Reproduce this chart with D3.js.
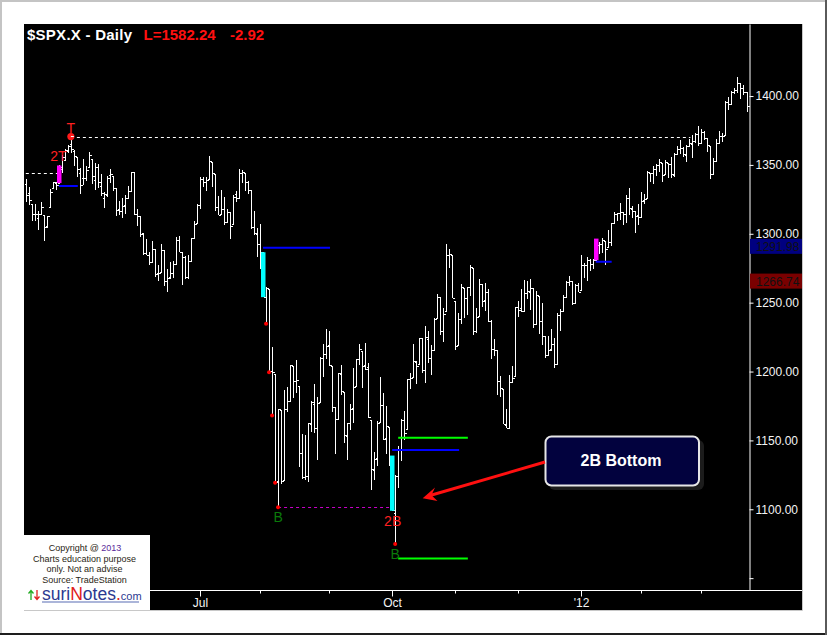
<!DOCTYPE html>
<html><head><meta charset="utf-8">
<script src="https://cdnjs.cloudflare.com/ajax/libs/d3/7.8.5/d3.min.js"></script>
<style>body{margin:0;background:#fff;} svg{display:block;}</style>
</head><body><svg id="c" width="827" height="635"></svg>
<script>
// ---------- DATA (daily bars, index 0 = first bar on chart) ----------
const opens = [
1336.2,1329.6,1321.96,1314.03,1311.1,1314.5,1313.4,1305.9,1319.1,1333.2,
1337.1,1336.8,1348.4,1353.9,1360.1,1365.2,1359.8,1355.9,1344.2,1340.2,
1340.2,1348.3,1354.5,1339.4,1348.7,1334.8,1326.1,1328.5,1342.4,1342.0,
1333.1,1317.7,1316.4,1320.6,1325.7,1331.1,1345.2,1314.6,1312.9,1300.3,
1286.3,1284.6,1279.6,1288.6,1271.3,1272.2,1287.9,1265.5,1268.6,1271.5,
1278.4,1295.5,1286.6,1283.0,1268.4,1280.2,1296.9,1307.6,1320.6,1339.6,
1337.6,1339.6,1352.4,1343.3,1319.6,1314.5,1317.7,1308.9,1315.9,1307.1,
1328.7,1325.7,1343.8,1344.3,1337.4,1331.9,1304.8,1300.1,1292.6,1286.6,
1254.3,1260.2,1200.3,1198.5,1120.2,1171.8,1121.3,1172.9,1178.9,1204.2,
1192.9,1189.6,1140.5,1123.6,1124.4,1162.2,1176.7,1158.9,1177.9,1209.8,
1213.0,1219.1,1203.9,1173.97,1165.9,1197.98,1185.4,1153.5,1162.6,1173.3,
1189.4,1209.2,1214.99,1204.5,1203.6,1164.6,1128.8,1136.9,1163.3,1175.4,
1151.7,1159.9,1131.2,1097.4,1124.0,1144.1,1165.0,1158.2,1194.6,1196.2,
1206.96,1205.7,1224.5,1200.8,1223.5,1209.9,1215.4,1238.7,1254.2,1229.2,
1243.97,1284.4,1284.96,1251.0,1219.6,1238.3,1260.8,1253.2,1261.1,1275.2,
1229.6,1240.1,1263.9,1251.7,1257.8,1236.6,1216.2,1215.6,1192.98,1187.5,
1161.4,1158.7,1192.6,1196.7,1246.9,1246.0,1244.3,1257.2,1258.1,1260.9,
1234.5,1255.1,1236.8,1225.7,1212.1,1216.1,1219.7,1205.7,1241.3,1243.7,
1254.0,1265.0,1265.4,1249.8,1262.8,1258.9,1277.0,1277.3,1280.9,1277.8,
1280.8,1292.0,1292.5,1294.8,1290.2,1293.7,1308.1,1314.5,1315.3,1315.96,
1314.4,1326.3,1318.3,1316.2,1313.5,1312.5,1324.2,1326.2,1344.3,1344.3,
1347.0,1349.97,1351.2,1343.1,1351.3,1350.5,1342.6,1358.1,1361.2,1362.1,
1357.5,1363.5,1365.2,1367.6,1372.2,1365.9,1374.1,1369.6,1363.6,1343.4,
1352.7,1366.0,1370.8,1371.9,1395.95,1394.2,1402.6,1404.2,1409.6,1405.5,
1402.9];
const highs = [
1339.5,1333.8,1321.96,1321.4,1316.8,1322.9,1313.4,1312.7,1332.7,1337.5,
1337.6,1349.6,1357.5,1361.7,1364.6,1370.6,1360.8,1355.9,1348,1354.4,
1349.4,1359.4,1354.5,1351.1,1350.5,1343.3,1330.4,1341.8,1346.8,1342.0,
1333.1,1323.7,1325.9,1328.5,1334.6,1345.2,1345.2,1318.0,1312.9,1300.3,
1296.2,1287.0,1294.5,1288.6,1277.0,1292.5,1287.9,1274.1,1279.8,1280.4,
1297.6,1298.6,1286.8,1283.9,1284.9,1296.8,1309.2,1321.97,1341.0,1340.9,
1340.9,1356.5,1352.4,1343.3,1327.2,1331.5,1326.9,1317.7,1315.9,1328.1,
1330.97,1347.0,1346.1,1344.3,1338.5,1331.9,1316.3,1304.0,1307.4,1286.6,
1261.2,1260.2,1218.1,1198.5,1172.9,1171.8,1186.3,1189.0,1204.5,1204.2,
1208.5,1189.6,1154.5,1154.1,1162.4,1178.6,1190.7,1181.2,1210.3,1220.1,
1230.7,1229.3,1203.9,1173.97,1198.6,1204.4,1185.4,1162.5,1176.4,1202.4,
1209.1,1220.1,1214.99,1220.4,1206.3,1164.6,1141.7,1164.2,1195.9,1184.7,
1175.1,1159.9,1138.99,1125.1,1146.1,1165.6,1171.4,1194.9,1199.2,1220.3,
1207.5,1224.6,1224.5,1233.1,1229.6,1219.4,1239.0,1256.6,1254.2,1246.3,
1292.7,1289.1,1284.96,1251.0,1242.5,1263.2,1260.8,1261.7,1277.6,1275.2,
1246.2,1266.98,1263.9,1264.3,1259.6,1237.7,1223.5,1215.6,1196.8,1187.5,
1172.7,1197.4,1203.7,1247.1,1251.1,1260.1,1266.7,1266.0,1267.1,1260.9,
1258.3,1255.1,1249.9,1225.7,1225.6,1231.0,1224.6,1242.8,1245.1,1255.2,
1265.4,1269.4,1265.9,1263.5,1264.1,1284.6,1278.7,1283.1,1281.8,1281.99,
1296.5,1293.8,1296.8,1294.8,1303.0,1308.1,1315.5,1315.4,1322.3,1315.96,
1328.3,1333.5,1320.1,1316.2,1321.4,1330.5,1329.2,1345.3,1344.4,1349.2,
1351.0,1354.3,1351.2,1353.4,1351.3,1355.9,1359.0,1363.4,1367.8,1362.7,
1364.2,1368.9,1371.9,1373.1,1378.0,1376.2,1374.5,1369.6,1363.6,1354.9,
1368.7,1374.8,1373.0,1396.1,1399.4,1403.9,1405.9,1414.0,1409.6,1407.8,
1402.9];
const lows = [
1322.9,1321.1,1309.5,1309.2,1302.4,1313.7,1294.7,1303.97,1319.1,1332.4,
1331.7,1336.8,1344.2,1353.6,1358.7,1358.6,1349.5,1341.5,1329.2,1335.6,
1338.6,1348.3,1336.4,1332.0,1333.4,1327.3,1318.5,1326.6,1336.7,1330.7,
1312.9,1313.9,1311.8,1314.4,1325.7,1331.1,1313.7,1305.6,1297.9,1284.7,
1284.7,1277.4,1279.6,1268.3,1265.6,1272.2,1261.9,1258.1,1267.4,1267.6,
1278.4,1286.8,1262.9,1267.2,1267.5,1280.2,1296.9,1307.6,1318.3,1334.3,
1330.9,1339.6,1333.7,1316.4,1313.3,1314.5,1306.5,1307.5,1295.9,1307.1,
1323.0,1325.7,1336.95,1331.1,1329.1,1303.6,1299.2,1282.9,1274.7,1254.0,
1234.6,1199.5,1168.1,1119.3,1101.5,1118.0,1121.3,1170.7,1178.9,1180.5,
1184.5,1131.0,1122.1,1121.1,1120.1,1156.3,1155.1,1135.9,1177.9,1195.8,
1209.4,1203.9,1170.6,1140.1,1165.9,1183.3,1148.4,1136.1,1157.4,1162.7,
1189.4,1204.5,1188.4,1201.3,1166.4,1114.2,1121.4,1131.1,1163.3,1150.4,
1139.9,1131.3,1098.9,1074.8,1115.7,1134.95,1150.3,1158.2,1187.3,1196.2,
1190.6,1205.7,1198.6,1191.5,1206.3,1197.3,1215.4,1238.7,1226.8,1221.1,
1243.97,1275.1,1253.2,1215.4,1219.6,1234.8,1238.9,1240.8,1254.99,1226.6,
1227.7,1240.1,1246.7,1244.3,1235.7,1209.4,1211.4,1183.2,1181.7,1161.8,
1158.7,1158.7,1191.8,1196.7,1239.7,1243.4,1244.3,1253.0,1244.8,1231.5,
1234.5,1227.3,1219.4,1209.5,1212.1,1215.2,1202.4,1205.7,1229.5,1243.7,
1254.0,1262.3,1248.6,1249.8,1257.5,1258.9,1268.1,1265.7,1273.3,1274.6,
1280.8,1285.4,1285.8,1277.6,1290.2,1290.99,1307.8,1309.2,1309.9,1306.1,
1307.7,1313.6,1311.7,1300.5,1306.7,1312.5,1321.6,1326.2,1337.5,1335.9,
1341.95,1344.6,1337.4,1343.1,1340.8,1340.8,1341.2,1357.2,1358.1,1355.5,
1352.3,1363.5,1354.9,1365.97,1363.8,1365.9,1368.4,1359.1,1340.0,1343.4,
1352.7,1366.0,1366.7,1371.9,1389.97,1394.2,1401.5,1402.4,1397.7,1400.6,
1388.7];
const closes = [
1328.2,1324.5,1314.5,1314.4,1314.5,1319.7,1305.1,1312.6,1330.4,1337.4,
1335.3,1347.2,1355.7,1360.5,1363.6,1361.2,1356.6,1347.3,1335.1,1340.2,
1346.3,1357.2,1342.1,1348.7,1337.8,1329.5,1328.98,1340.7,1343.6,1333.3,
1317.4,1316.3,1320.5,1325.7,1331.1,1345.2,1314.6,1312.9,1300.2,1286.2,
1284.9,1279.6,1289.0,1270.98,1271.8,1287.9,1265.4,1267.6,1271.5,1278.4,
1295.5,1287.1,1283.5,1268.5,1280.1,1296.7,1307.4,1320.6,1339.7,1337.9,
1339.2,1353.2,1343.8,1319.5,1313.6,1317.7,1308.9,1316.1,1305.4,1326.7,
1325.8,1343.8,1345.02,1337.4,1331.9,1304.9,1300.7,1292.3,1286.9,1254.1,
1260.3,1200.1,1199.4,1119.5,1172.5,1120.8,1172.6,1178.8,1204.5,1192.8,
1193.9,1140.7,1123.5,1123.8,1162.4,1177.6,1159.3,1176.8,1210.1,1212.9,
1218.9,1204.4,1173.97,1165.2,1198.6,1185.9,1154.2,1162.3,1172.9,1188.7,
1209.1,1216.0,1204.1,1202.1,1166.8,1129.6,1136.4,1162.95,1175.4,1151.1,
1160.4,1131.4,1099.2,1123.95,1144.0,1164.97,1155.5,1194.9,1195.5,1207.3,
1203.7,1224.6,1200.9,1225.4,1209.9,1215.4,1238.3,1254.2,1229.1,1242.0,
1284.6,1285.1,1253.3,1218.3,1237.9,1261.2,1253.2,1261.1,1275.9,1229.1,
1239.7,1263.9,1251.0,1257.8,1236.9,1216.1,1215.7,1192.98,1188.0,1161.8,
1158.7,1192.6,1195.2,1246.96,1244.6,1244.3,1257.1,1258.5,1261.0,1234.4,
1255.2,1236.5,1225.7,1211.8,1215.8,1219.7,1205.4,1241.3,1243.7,1254.0,
1265.3,1265.4,1249.6,1263.0,1257.6,1277.1,1277.3,1281.1,1277.8,1280.7,
1292.1,1292.5,1295.5,1289.1,1293.7,1308.0,1314.5,1315.4,1316.0,1314.7,
1326.1,1318.4,1316.3,1313.0,1312.4,1324.1,1325.5,1344.9,1344.3,1347.1,
1349.96,1351.95,1342.6,1351.8,1350.5,1343.2,1358.0,1361.2,1362.2,1357.7,
1363.5,1365.7,1367.6,1372.2,1366.0,1374.1,1369.6,1364.3,1343.4,1352.6,
1366.0,1370.9,1371.1,1395.95,1394.3,1402.6,1404.2,1409.8,1405.5,1402.9,
1392.8];

// month boundaries (bar index of first trading day) and labels
const monthTicks = [15,36,58,78,101,122,143,164,185,205,225];
const monthLabelIdx = [58,122,185];
const monthLabelText = ["Jul","Oct","'12"];
// price axis
const priceTicks = [1050,1100,1150,1200,1250,1300,1350,1400];
const priceLabelTicks = [1100,1150,1200,1250,1300,1350,1400];
const markerPrices = [1291.98,1266.74];
const markerColors = ["#000080","#7a0000"];
// annotations
const cyanBars = [79,122];
const magentaBars = [11,190];
const blueFrom = [11,79,122,189.8], blueTo = [17.3,101.3,144.3,195.1], bluePrice = [1334.7,1289.9,1143.0,1279.7];
const greenFrom = [124,124], greenTo = [147.2,147.2], greenPrice = [1152.0,1064.2];
const redDotBars = [80,81,82,83,84,123];
const whiteDashFrom = [0,15], whiteDashTo = [10.4,221.3], whiteDashPrice = [1344.07,1370.58];

// ---------- DRAW ----------
const svg = d3.select("#c");
const W = 827, H = 635;
const x = d3.scaleLinear().domain([0,240]).range([25.84,746.5]);
const y = d3.scaleLinear().domain([1041.4,1452.3]).range([590,24]);
const px = v => Math.round(x(v)) + 0.5;

svg.append("rect").attr("width",W).attr("height",H).attr("fill","#fff");
// window frame
svg.append("rect").attr("x",0).attr("y",0).attr("width",W).attr("height",2).attr("fill","#c4c4c4");
svg.append("rect").attr("x",0).attr("y",0).attr("width",2).attr("height",H).attr("fill","#c4c4c4");
svg.append("rect").attr("x",0).attr("y",633).attr("width",W).attr("height",2).attr("fill","#1e1e1e");
svg.append("rect").attr("x",825).attr("y",0).attr("width",2).attr("height",H).attr("fill","#5a5a5a");

// black chart area
svg.append("rect").attr("x",24).attr("y",24).attr("width",778).attr("height",586).attr("fill","#000");
svg.append("line").attr("x1",24).attr("x2",802.5).attr("y1",610.5).attr("y2",610.5).attr("stroke","#c8c8c8");
svg.append("line").attr("x1",802.5).attr("x2",802.5).attr("y1",24).attr("y2",610.5).attr("stroke","#c8c8c8");

const plot = svg.append("g");

// dashed reference lines
whiteDashPrice.forEach((p,k)=>{
  plot.append("line").attr("x1",x(whiteDashFrom[k])).attr("x2",x(whiteDashTo[k]))
    .attr("y1",Math.round(y(p))+0.5).attr("y2",Math.round(y(p))+0.5)
    .attr("stroke","#fff").attr("stroke-width",1).attr("stroke-dasharray","3,3");
});
plot.append("line").attr("x1",x(84)).attr("x2",x(122))
  .attr("y1",Math.round(y(lows[84]))+0.5).attr("y2",Math.round(y(lows[84]))+0.5)
  .attr("stroke","#c800c8").attr("stroke-width",1).attr("stroke-dasharray","3,3");

// OHLC bars
const idx = d3.range(opens.length);
const bars = plot.append("g").attr("stroke","#fff").attr("stroke-width",1).attr("shape-rendering","crispEdges");
bars.selectAll("line.hl").data(idx).join("line").attr("class","hl")
  .attr("x1",i=>px(i)).attr("x2",i=>px(i)).attr("y1",i=>y(highs[i])).attr("y2",i=>y(lows[i]));
bars.selectAll("line.op").data(idx).join("line").attr("class","op")
  .attr("x1",i=>px(i)-2).attr("x2",i=>px(i)).attr("y1",i=>Math.round(y(opens[i]))+0.5).attr("y2",i=>Math.round(y(opens[i]))+0.5);
bars.selectAll("line.cl").data(idx).join("line").attr("class","cl")
  .attr("x1",i=>px(i)).attr("x2",i=>px(i)+2).attr("y1",i=>Math.round(y(closes[i]))+0.5).attr("y2",i=>Math.round(y(closes[i]))+0.5);

// highlighted bars
plot.selectAll("rect.cy").data(cyanBars).join("rect").attr("class","cy")
  .attr("x",i=>Math.round(x(i))-2).attr("width",4.5).attr("y",i=>y(highs[i])).attr("height",i=>y(lows[i])-y(highs[i])).attr("fill","#00ffff");
plot.selectAll("rect.mg").data(magentaBars).join("rect").attr("class","mg")
  .attr("x",i=>Math.round(x(i))-2).attr("width",4.5).attr("y",i=>y(highs[i])).attr("height",i=>y(lows[i])-y(highs[i])).attr("fill","#ff00ff");

// blue / green level lines
bluePrice.forEach((p,k)=>{
  plot.append("line").attr("x1",x(blueFrom[k])).attr("x2",x(blueTo[k])).attr("y1",y(p)).attr("y2",y(p))
    .attr("stroke","#0000ff").attr("stroke-width",2);
});
greenPrice.forEach((p,k)=>{
  plot.append("line").attr("x1",x(greenFrom[k])).attr("x2",x(greenTo[k])).attr("y1",y(p)).attr("y2",y(p))
    .attr("stroke","#00ff00").attr("stroke-width",2);
});

// red dots at lows
plot.selectAll("circle.rd").data(redDotBars).join("circle").attr("class","rd")
  .attr("cx",i=>x(i)).attr("cy",i=>y(lows[i])).attr("r",2).attr("fill","#ff0000");
// T marker
plot.append("circle").attr("cx",x(15)).attr("cy",y(highs[15])).attr("r",3.6).attr("fill","#ff1a1a");
plot.append("line").attr("x1",x(15)).attr("x2",x(15)+3).attr("y1",y(highs[15])).attr("y2",y(highs[15])).attr("stroke","#fff");

const lbl = (t,xx,yy,c)=>plot.append("text").attr("x",xx).attr("y",yy).attr("text-anchor","middle")
  .attr("font-family","Liberation Sans, Arial, sans-serif").attr("font-size",14).attr("fill",c).text(t);
lbl("T", x(15), y(highs[15])-4, "#ff2020");
lbl("2T", x(11)-0.5, y(highs[11])-4, "#ff2020");
lbl("B", x(84), y(lows[84])+15, "#0a7a0a");
lbl("2B", x(122)+0.5, y(lows[122])+15, "#ff2020");
lbl("B", x(123), y(lows[123])+15, "#0a7a0a");

// Y axis (right)
const yAxis = d3.axisRight(y).tickValues(priceTicks).tickSize(4).tickSizeOuter(0).tickPadding(2)
  .tickFormat(d => priceLabelTicks.includes(d) ? d.toFixed(2) : "");
const ya = svg.append("g").attr("transform","translate(749.5,0)").call(yAxis);
ya.select(".domain").attr("stroke","#fff");
ya.selectAll(".tick line").attr("stroke","#fff");
ya.selectAll(".tick text").attr("fill","#f4f4f4").attr("font-family","Liberation Sans, Arial, sans-serif").attr("font-size",12);

// price markers on axis
markerPrices.forEach((p,k)=>{
  svg.append("rect").attr("x",750).attr("y",y(p)-6).attr("width",52).attr("height",15).attr("fill",markerColors[k]);
  svg.append("text").attr("x",756).attr("y",y(p)+6).attr("font-family","Liberation Sans, Arial, sans-serif")
    .attr("font-size",12).attr("fill","#111").text(p.toFixed(2));
});

// X axis
svg.append("line").attr("x1",24).attr("x2",802).attr("y1",590.5).attr("y2",590.5).attr("stroke","#fff");
const xAxis = d3.axisBottom(x).tickValues(monthTicks).tickSize(3).tickSizeOuter(0)
  .tickFormat(i => { const k = monthLabelIdx.indexOf(i); return k>=0 ? monthLabelText[k] : ""; });
const xa = svg.append("g").attr("transform","translate(0,590.5)").call(xAxis);
xa.select(".domain").remove();
xa.selectAll(".tick line").attr("stroke","#fff").attr("y2",i=>monthLabelIdx.includes(i)?6:3);
xa.selectAll(".tick").attr("transform",i=>`translate(${px(i)},0)`);
xa.selectAll(".tick text").attr("fill","#f4f4f4").attr("y",8)
  .attr("font-family","Liberation Sans, Arial, sans-serif").attr("font-size",12);

// Title
const tf = "Liberation Sans, Arial, sans-serif";
svg.append("text").attr("x",27).attr("y",40).attr("font-family",tf).attr("font-weight","bold").attr("font-size",15)
  .attr("fill","#fff").attr("textLength",105).text("$SPX.X - Daily");
svg.append("text").attr("x",143.5).attr("y",40).attr("font-family",tf).attr("font-weight","bold").attr("font-size",15)
  .attr("fill","#ff1010").text("L=1582.24");
svg.append("text").attr("x",230).attr("y",40).attr("font-family",tf).attr("font-weight","bold").attr("font-size",15)
  .attr("fill","#ff1010").text("-2.92");

// 2B Bottom callout
svg.append("rect").attr("x",549).attr("y",440).attr("width",155).attr("height",50).attr("rx",6).attr("fill","#1c1c1c");
svg.append("rect").attr("x",545.5).attr("y",436.5).attr("width",153.5).attr("height",49).attr("rx",6)
  .attr("fill","#02023e").attr("stroke","#e6e6e6").attr("stroke-width",2);
svg.append("text").attr("x",621).attr("y",466).attr("text-anchor","middle").attr("font-family",tf)
  .attr("font-weight","bold").attr("font-size",16).attr("fill","#fff").text("2B Bottom");
svg.append("line").attr("x1",545).attr("y1",462).attr("x2",430).attr("y2",495.5).attr("stroke","#ff1010").attr("stroke-width",3);
svg.append("path").attr("d","M422.7,498.3 L435,487.5 L431.5,495.2 L437.5,501 Z").attr("fill","#ff1010");

// copyright box
svg.append("rect").attr("x",24).attr("y",535).attr("width",126).attr("height",75).attr("fill","#fff");
const cf = "Liberation Sans, Arial, sans-serif";
const c1 = svg.append("text").attr("x",85).attr("y",551).attr("text-anchor","middle").attr("font-family",cf).attr("font-size",9).attr("fill","#2a1e14");
c1.append("tspan").text("Copyright @ ");
c1.append("tspan").attr("fill","#5a2a9a").text("2013");
[["Charts education purpose",561.5],["only. Not an advise",572],["Source: TradeStation",582.5]].forEach(([t,yy])=>{
  svg.append("text").attr("x",84.5).attr("y",yy).attr("text-anchor","middle").attr("font-family",cf).attr("font-size",9)
    .attr("fill","#2a1e14").text(t);
});
// logo arrows (icon)
svg.append("path").attr("d","M31,600 L31,591 M28.5,593.5 L31,590.5 L33.5,593.5").attr("stroke","#22aa22").attr("stroke-width",1.3).attr("fill","none");
svg.append("path").attr("d","M37,590 L37,599 M34.5,596.5 L37,599.5 L39.5,596.5").attr("stroke","#e02020").attr("stroke-width",1.3).attr("fill","none");
const logo = svg.append("text").attr("x",42).attr("y",600).attr("font-family",cf).attr("font-size",17.5).attr("fill","#2b3990");
logo.append("tspan").text("suri");
logo.append("tspan").attr("fill","#e0201a").text("N");
logo.append("tspan").text("otes");
logo.append("tspan").attr("fill","#e0201a").text(".");
logo.append("tspan").attr("font-size",11).text("com");
svg.append("line").attr("x1",42).attr("x2",139).attr("y1",602).attr("y2",602).attr("stroke","#8f9ccc").attr("stroke-width",1.5);
</script></body></html>
